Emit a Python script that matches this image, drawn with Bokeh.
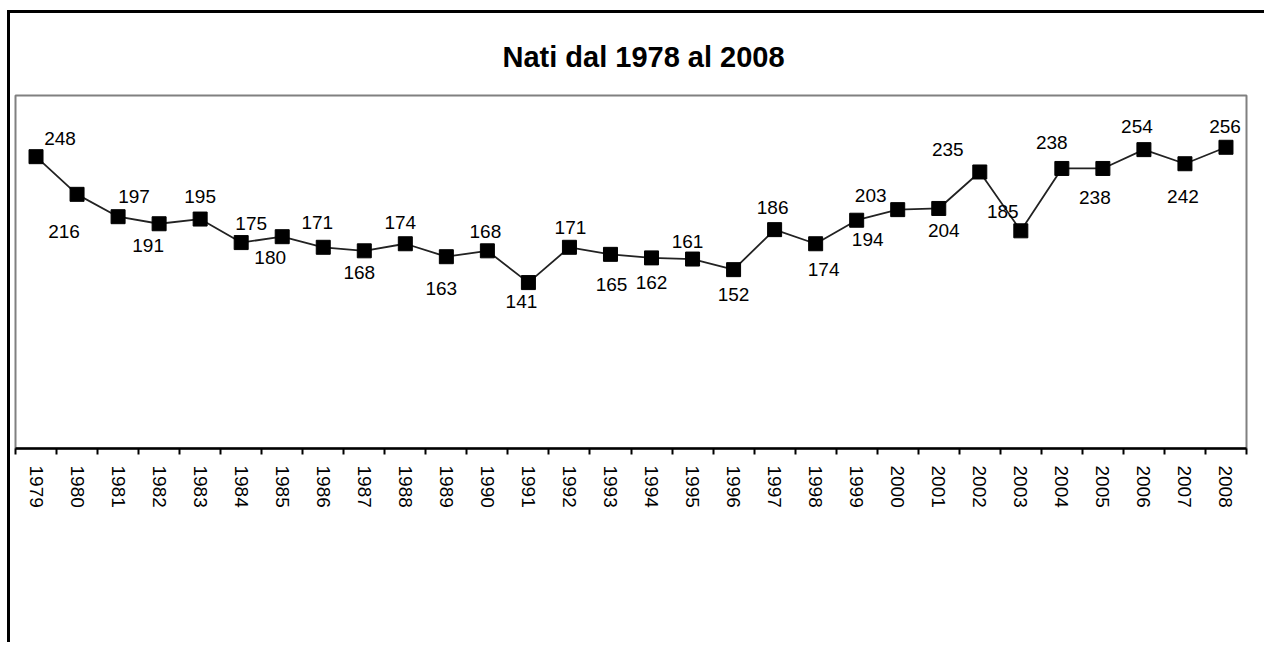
from bokeh.plotting import figure
from bokeh.models import ColumnDataSource, LabelSet, Range1d, FixedTicker, Title
from bokeh.core.properties import value
from bokeh.embed import file_html
from bokeh.resources import INLINE

title_text = "Nati dal 1978 al 2008"
years = [str(y) for y in range(1979, 2009)]
births = [248, 216, 197, 191, 195, 175, 180, 171, 168, 174, 163, 168, 141, 171, 165,
          162, 161, 152, 186, 174, 194, 203, 204, 235, 185, 238, 238, 254, 242, 256]

# label placement offsets in pixels (right, down) - styling only
label_dx = [24, -13, 16, -11, 0, 10, -12, -6, -5, -5, -5, -2, -7, 1, 1,
            0, -5, 0, -2, 8, 11, -27, 5, -32, -18, -10, -8, -7, -2, -1]
label_dy = [-18, 37, -20, 22, -23, -19, 21, -25, 22, -21, 32, -19, 19, -20, 30,
            25, -18, 25, -22, 26, 19, -14, 22, -22, -19, -26, 29, -23, 33, -21]

xs = [i + 0.5 for i in range(len(years))]
src = ColumnDataSource(dict(x=xs, y=births, txt=[str(v) for v in births],
                            dx=label_dx, dy=[-d for d in label_dy]))

FONT = "Liberation Sans"

p = figure(width=1257, height=632, output_backend="svg", toolbar_location=None,
           x_range=Range1d(0, len(years)), y_range=Range1d(0, 300),
           min_border_left=5, min_border_right=21, min_border_top=82, min_border_bottom=197)
p.styles = {"border-left": "3px solid black", "border-top": "3px solid black",
            "margin-left": "7px", "margin-top": "10px"}

p.title = Title(text=title_text, align="left", text_font=FONT,
                text_font_size="29px", text_font_style="bold", text_color="black",
                standoff=30, offset=487)
# small blank spacer between the title and the plot frame
p.add_layout(Title(text=" ", text_font_size="5px", standoff=0), "above")

p.yaxis.visible = False
p.xgrid.visible = False
p.ygrid.visible = False
p.outline_line_color = "#808080"
p.outline_line_width = 2
p.background_fill_color = "white"
p.border_fill_color = "white"

ax = p.xaxis[0]
ax.ticker = FixedTicker(ticks=xs, minor_ticks=list(range(len(years) + 1)))
ax.major_label_overrides = {x: y for x, y in zip(xs, years)}
ax.major_tick_out = 0
ax.major_tick_in = 0
ax.minor_tick_out = 6
ax.minor_tick_in = 0
ax.minor_tick_line_color = "black"
ax.minor_tick_line_width = 2
ax.axis_line_color = "black"
ax.axis_line_width = 2.5
ax.major_label_orientation = "vertical"
ax.major_label_standoff = 11
ax.major_label_text_font = FONT
ax.major_label_text_font_size = "19px"
ax.major_label_text_color = "black"

p.line("x", "y", source=src, line_color="#222222", line_width=1.8)
p.scatter("x", "y", source=src, marker="square", size=14, fill_color="black", line_color="black")

labels = LabelSet(x="x", y="y", text="txt", source=src, x_offset="dx", y_offset="dy",
                  text_align="center", text_baseline="middle", text_font=value(FONT),
                  text_font_size="19px", text_color="black")
p.add_layout(labels)

open("out.html", "w").write(file_html(p, INLINE))
